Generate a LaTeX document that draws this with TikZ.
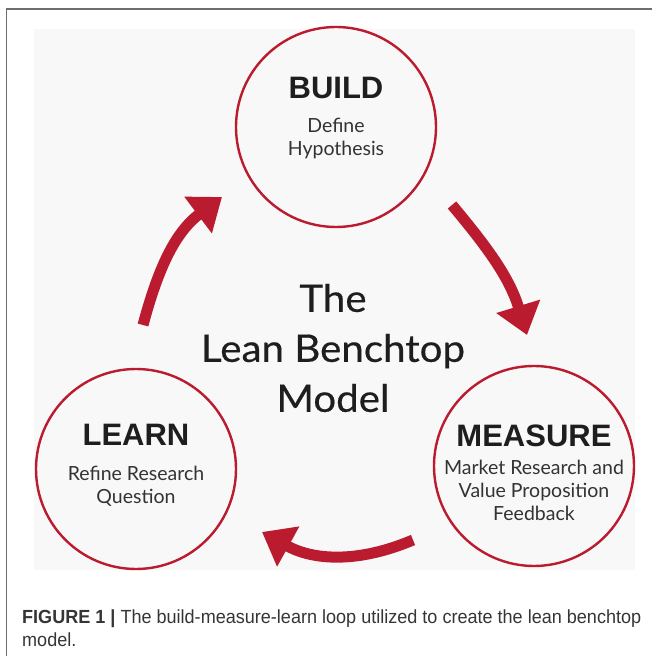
\documentclass[tikz,border=0pt]{standalone}
\usepackage{fontspec}
\setmainfont{Lato}
\newfontfamily\headfont{Liberation Sans}
\newfontfamily\titlefont[FakeStretch=1.06, FakeBold=0.4]{Lato}
\newfontfamily\capfont[FakeStretch=0.95]{Liberation Sans}
\usetikzlibrary{
  arrows.meta,
  positioning,
  calc
}
\definecolor{leanred}{HTML}{BA1B2E}
\definecolor{panelgray}{HTML}{F8F8F8}
\definecolor{framegray}{HTML}{6E6E6E}
\definecolor{inkgray}{HTML}{1E1E1E}
\definecolor{subgray}{HTML}{333333}

\begin{document}
\begin{tikzpicture}[x=1pt,y=1pt]
  \tikzset{
    stage/.style = {circle, draw=leanred, line width=2.4pt,
      minimum size=200pt, inner sep=0pt},
    stagehead/.style = {font=\headfont\bfseries\fontsize{31}{31}\selectfont,
      text=inkgray},
    stagetext/.style = {font=\fontsize{19.5}{23}\selectfont, align=center,
      text=subgray},
    loop arrow/.style = {leanred, line width=11pt,
      -{Triangle[length=30pt,width=44pt]}},
  }
  \useasboundingbox (0,0) rectangle (652,656);

  % frame and light panel
  \fill[panelgray] (34,86) rectangle (635,627);
  \draw[framegray, line width=1.5pt] (652,647) -- (6.5,647) -- (6.5,0);

  % the three stages
  \node[stage] (build) at (336,529) {};
  \node[stage] (measure) at (534,190) {};
  \node[stage] (learn) at (136,187) {};

  \node[stagehead] (build-head) at ([yshift=39pt]build.center) {BUILD};
  \node[stagetext] (build-text) at ([yshift=-12pt]build.center)
    {Define\\Hypothesis};
  \node[stagehead] (measure-head) at ([yshift=30pt]measure.center) {MEASURE};
  \node[stagetext] (measure-text) at ([yshift=-24pt]measure.center)
    {Market Research and\\Value Proposition\\Feedback};
  \node[stagehead] (learn-head) at ([yshift=34pt]learn.center) {LEARN};
  \node[stagetext] (learn-text) at ([yshift=-17pt]learn.center)
    {Refine Research\\Question};

  % title in the middle
  \node[font=\titlefont\fontsize{38}{50}\selectfont, align=center, text=inkgray]
    (title) at (333,308) {The\\Lean Benchtop\\Model};

  % arrow ends
  \coordinate (bm-s) at (452,451);
  \coordinate (bm-e) at (527,321);
  \coordinate (ml-s) at (413,116);
  \coordinate (ml-e) at (262,124);
  \coordinate (lb-s) at (143,331);
  \coordinate (lb-e) at (222,459);

  \foreach \s/\e/\o/\i in {bm-s/bm-e/-50/107, ml-s/ml-e/203/-29, lb-s/lb-e/75/217}
    \draw[loop arrow] (\s) to[out=\o, in=\i] (\e);

  % caption
  \node[anchor=north west, align=left, inner sep=0pt,
    font=\capfont\fontsize{19}{23}\selectfont, text=inkgray!90]
    (caption) at (22,46)
    {{\bfseries FIGURE 1 |} The build-measure-learn loop utilized to create the lean benchtop\\model.};
\end{tikzpicture}
\end{document}
